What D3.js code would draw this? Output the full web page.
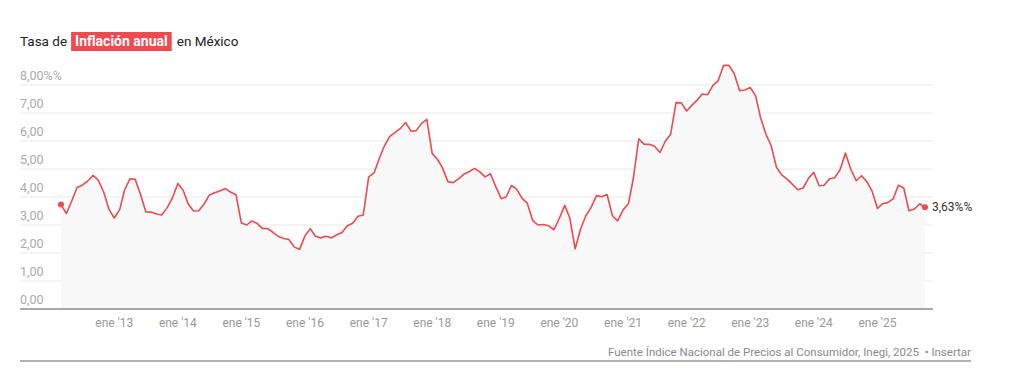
<!DOCTYPE html>
<html>
<head>
<meta charset="utf-8">
<script src="https://cdn.jsdelivr.net/npm/d3@7"></script>
<style>
  body { margin: 0; background: #fff; }
  svg { font-family: Roboto, "Liberation Sans", sans-serif; }
</style>
</head>
<body>
<div id="viz"></div>
<script>
// inflación anual mensual, desde marzo 2012 hasta octubre 2025
var startYear = 2012, startMonth = 2;
var inflacion = [
  3.73, 3.41, 3.85, 4.34, 4.42, 4.57, 4.77, 4.60, 4.18, 3.57,
  3.25, 3.55, 4.25, 4.65, 4.63, 4.09, 3.47, 3.46, 3.39, 3.36, 3.62, 3.97,
  4.48, 4.23, 3.76, 3.50, 3.51, 3.75, 4.07, 4.15, 4.22, 4.30, 4.17, 4.08,
  3.07, 3.00, 3.14, 3.06, 2.88, 2.87, 2.74, 2.59, 2.52, 2.48, 2.21, 2.13,
  2.61, 2.87, 2.60, 2.54, 2.60, 2.54, 2.65, 2.73, 2.97, 3.06, 3.31, 3.36,
  4.72, 4.86, 5.35, 5.82, 6.16, 6.31, 6.44, 6.66, 6.35, 6.37, 6.63, 6.77,
  5.55, 5.34, 5.04, 4.55, 4.51, 4.65, 4.81, 4.90, 5.02, 4.90, 4.72, 4.83,
  4.37, 3.94, 4.00, 4.41, 4.28, 3.95, 3.78, 3.16, 3.00, 3.02, 2.97, 2.83,
  3.24, 3.70, 3.25, 2.15, 2.84, 3.33, 3.62, 4.05, 4.01, 4.09, 3.33, 3.15,
  3.54, 3.76, 4.67, 6.08, 5.89, 5.88, 5.81, 5.59, 6.00, 6.24, 7.37, 7.36,
  7.07, 7.28, 7.45, 7.68, 7.65, 7.99, 8.15, 8.70, 8.70, 8.41, 7.80, 7.82,
  7.91, 7.62, 6.85, 6.25, 5.84, 5.06, 4.79, 4.64, 4.45, 4.26, 4.32, 4.66,
  4.88, 4.40, 4.42, 4.65, 4.69, 4.98, 5.57, 4.99, 4.58, 4.76, 4.55, 4.21,
  3.59, 3.77, 3.80, 3.93, 4.42, 4.32, 3.51, 3.57, 3.76, 3.63
];
var yTicks = [0, 1, 2, 3, 4, 5, 6, 7, 8];
var xTickYears = [2013, 2014, 2015, 2016, 2017, 2018, 2019, 2020, 2021, 2022, 2023, 2024, 2025];

var width = 1024, height = 384;
var red = '#ee4a4f';

var data = inflacion.map((v, i) => ({ date: new Date(startYear, startMonth + i, 1), v: v }));

var svg = d3.select('#viz').append('svg')
  .attr('width', width)
  .attr('height', height);

var xScale = d3.scaleTime()
  .domain([data[0].date, data[data.length - 1].date])
  .range([61, 925]);
var yScale = d3.scaleLinear().domain([0, 8]).range([309, 85]);

// grid
svg.append('g').selectAll('line').data(yTicks.slice(1)).enter().append('line')
  .attr('x1', 20).attr('x2', 933)
  .attr('y1', d => yScale(d)).attr('y2', d => yScale(d))
  .attr('stroke', '#e8e8e8').attr('stroke-width', 1);

svg.append('g').selectAll('text').data(yTicks).enter().append('text')
  .attr('x', 20)
  .attr('y', d => yScale(d) - 5)
  .attr('font-size', 12.5)
  .attr('fill', '#ababab')
  .text(d => d3.format('.2f')(d).replace('.', ',') + (d === 8 ? '%%' : ''));

// area + line
var area = d3.area()
  .x(d => xScale(d.date))
  .y0(yScale(0))
  .y1(d => yScale(d.v));
svg.append('path').datum(data)
  .attr('d', area)
  .attr('fill', '#f8f8f8');

var line = d3.line()
  .x(d => xScale(d.date))
  .y(d => yScale(d.v));
svg.append('path').datum(data)
  .attr('d', line)
  .attr('fill', 'none')
  .attr('stroke', red)
  .attr('stroke-width', 1.6)
  .attr('stroke-linejoin', 'round');

svg.append('line')
  .attr('x1', 20).attr('x2', 933)
  .attr('y1', yScale(0)).attr('y2', yScale(0))
  .attr('stroke', '#555').attr('stroke-width', 1);

var first = data[0], last = data[data.length - 1];
svg.selectAll('circle.end').data([first, last]).enter().append('circle')
  .attr('cx', d => xScale(d.date))
  .attr('cy', d => yScale(d.v))
  .attr('r', 3)
  .attr('fill', red);

svg.append('text')
  .attr('x', xScale(last.date) + 7)
  .attr('y', yScale(last.v) + 4)
  .attr('font-size', 12)
  .attr('fill', '#333')
  .text(d3.format('.2f')(last.v).replace('.', ',') + '%%');

// x axis labels
svg.append('g').selectAll('text').data(xTickYears).enter().append('text')
  .attr('x', d => xScale(new Date(d, 0, 1)))
  .attr('y', 327)
  .attr('text-anchor', 'middle')
  .attr('font-size', 12)
  .attr('fill', '#999')
  .text(d => "ene '" + String(d).slice(2));

// title
var title = svg.append('g').attr('transform', 'translate(20,46)');
var t1 = title.append('text').attr('font-size', 13.5).attr('fill', '#222').text('Tasa de');
var w1 = t1.node().getComputedTextLength();
var boxG = title.append('g').attr('transform', `translate(${w1 + 4},0)`);
var rect = boxG.append('rect').attr('y', -14).attr('height', 19).attr('fill', red);
var t2 = boxG.append('text').attr('x', 4).attr('font-size', 14).attr('font-weight', 'bold')
  .attr('fill', '#fff').text('Inflación anual');
var w2 = t2.node().getComputedTextLength();
rect.attr('width', w2 + 8);
title.append('text').attr('x', w1 + 4 + w2 + 8 + 5).attr('font-size', 13.5).attr('fill', '#222').text('en México');

// footer
svg.append('line')
  .attr('x1', 20).attr('x2', 971)
  .attr('y1', 361).attr('y2', 361)
  .attr('stroke', '#666').attr('stroke-width', 1);
svg.append('text')
  .attr('x', 971).attr('y', 356)
  .attr('text-anchor', 'end')
  .attr('font-size', 11.5)
  .attr('fill', '#8a8a8a')
  .attr('xml:space', 'preserve')
  .text('Fuente Índice Nacional de Precios al Consumidor, Inegi, 2025  • Insertar');
</script>
</body>
</html>
